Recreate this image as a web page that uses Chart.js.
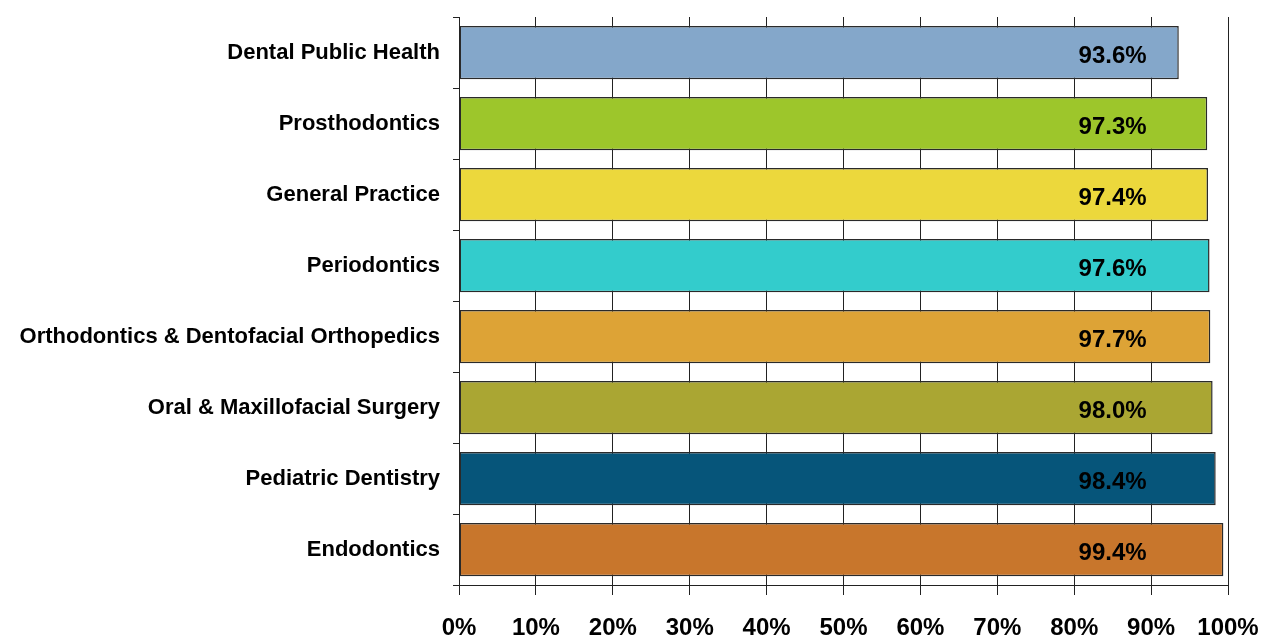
<!DOCTYPE html>
<html>
<head>
<meta charset="utf-8">
<script src="https://cdn.jsdelivr.net/npm/chart.js@4.4.1/dist/chart.umd.min.js"></script>
<style>
  html, body { margin: 0; padding: 0; background: #fff; }
  #wrap { position: relative; width: 1270px; height: 637px; }
</style>
</head>
<body>
<div id="wrap"><canvas id="g-esp"></canvas></div>
<script>
// especialidades, de arriba hacia abajo
var categorias = [
  "Dental Public Health",
  "Prosthodontics",
  "General Practice",
  "Periodontics",
  "Orthodontics & Dentofacial Orthopedics",
  "Oral & Maxillofacial Surgery",
  "Pediatric Dentistry",
  "Endodontics"
];
var valores = [93.6, 97.3, 97.4, 97.6, 97.7, 98.0, 98.4, 99.4];
var colores = ["#84A7CA", "#9DC62B", "#ECD83C", "#33CCCC", "#DDA336", "#AAA633", "#06557A", "#C8762C"];
var ticksX = [0, 10, 20, 30, 40, 50, 60, 70, 80, 90, 100];

var ff = "'Liberation Sans', Arial, sans-serif";
var lc = "#222";

// quitar el relleno automatico que Chart.js agrega por las etiquetas
function sinRelleno(s) {
  s.paddingTop = 0; s.paddingBottom = 0; s.paddingLeft = 0; s.paddingRight = 0;
}

// etiquetas de valor dentro de la barra, en una columna fija (~85%)
var etiquetas = {
  id: "etiquetas",
  afterDatasetsDraw: function(chart) {
    var ctx = chart.ctx, xs = chart.scales.x;
    var meta = chart.getDatasetMeta(0);
    ctx.save();
    ctx.font = "bold 24px " + ff;
    ctx.fillStyle = "#000";
    ctx.textAlign = "center";
    ctx.textBaseline = "middle";
    meta.data.forEach(function(bar, i) {
      ctx.fillText(valores[i].toFixed(1) + "%", xs.getPixelForValue(85), bar.y + 4);
    });
    ctx.restore();
  }
};

new Chart(document.getElementById("g-esp"), {
  type: "bar",
  data: {
    labels: categorias,
    datasets: [{
      data: valores,
      backgroundColor: colores,
      borderColor: "#2a2a2a",
      borderWidth: 1.5,
      borderSkipped: false,
      barPercentage: 0.75,
      categoryPercentage: 1
    }]
  },
  options: {
    responsive: true, maintainAspectRatio: false, indexAxis: "y",
    animation: false,
    layout: { padding: { top: 17, right: 42, left: 0, bottom: 0 } },
    plugins: { legend: { display: false }, tooltip: { enabled: false } },
    scales: {
      x: {
        min: 0, max: 100,
        afterFit: function(s) { s.height = 52; sinRelleno(s); },
        afterBuildTicks: function(s) { s.ticks = ticksX.map(function(v) { return { value: v }; }); },
        grid: { color: lc, lineWidth: 1, tickLength: 10 },
        border: { color: lc, width: 1 },
        ticks: { color: "#000", padding: 19, maxRotation: 0, font: { size: 24, weight: "bold", family: ff },
                 callback: function(v) { return v + "%"; } }
      },
      y: {
        afterFit: function(s) { s.width = 459; sinRelleno(s); },
        grid: { offset: true, drawOnChartArea: false, color: lc, tickLength: 6 },
        border: { color: lc, width: 1 },
        ticks: { color: "#000", padding: 13, font: { size: 22, weight: "bold", family: ff } }
      }
    }
  },
  plugins: [etiquetas]
});
</script>
</body>
</html>
